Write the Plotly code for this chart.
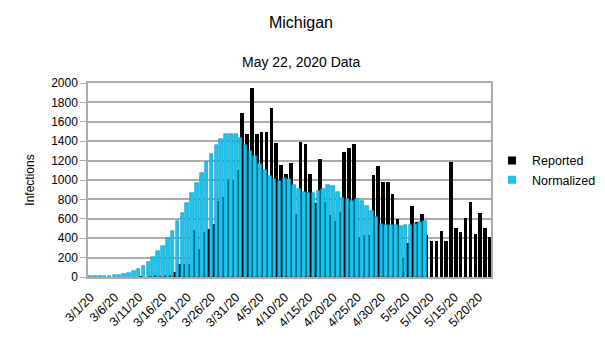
import pandas as pd
import plotly.graph_objects as go

# Daily cases, Michigan, 3/1/20 .. 5/22/20
days = pd.date_range("2020-03-01", "2020-05-22", freq="D")
categories = [f"{d.month}/{d.day}/20" for d in days]

reported = [
    0, 0, 0, 0, 0, 0, 0, 0, 0, 0, 2, 0,
    10, 12, 10, 18, 12,
    50, 136, 136, 136, 488, 290, 460, 500, 545, 784, 829, 1006, 1000, 1108,
    1695, 1475, 1945, 1475, 1490, 1500, 1745, 1378, 1157, 1057, 1175, 650,
    1395, 1372, 1063, 760, 1217,
    776, 639, 581, 667, 1290, 1328, 1371, 416, 433, 430, 1050, 1140, 978,
    978, 858, 601, 195, 350, 730, 567,
    648, 433, 375, 375, 477, 375, 1183, 501, 467, 604, 774, 443, 665, 505, 409,
]

normalized = [
    7, 7, 10, 10, 14, 17, 24, 31, 44, 61, 85, 112, 153, 205, 266, 324, 400,
    470, 580, 665, 767, 870, 965, 1074, 1187, 1268, 1357, 1422, 1475, 1470,
    1478, 1430, 1360, 1296, 1245,
    1160, 1098, 1040, 1006, 989, 1023, 1006, 945, 904, 876, 863, 870, 887,
    912, 950, 934, 880,
    811, 800, 785, 805, 780, 728, 677, 615, 550, 540, 540, 540, 529, 540,
    540, 550, 563, 574,
]
normalized = normalized + [None] * (len(categories) - len(normalized))

tick_labels = [
    "3/1/20", "3/6/20", "3/11/20", "3/16/20", "3/21/20", "3/26/20", "3/31/20",
    "4/5/20", "4/10/20", "4/15/20", "4/20/20", "4/25/20", "4/30/20",
    "5/5/20", "5/10/20", "5/15/20", "5/20/20",
]
y_ticks = list(range(0, 2001, 200))

BLACK = "#000000"
CYAN = "#1ac6f0"
CYAN_EDGE = "#0a93bd"
GRID = "#ababab"
FONT = "Liberation Sans"

fig = go.Figure()

# back row: reported counts, nudged right so they peek out between the front bars
fig.add_trace(go.Bar(
    x=categories, y=reported, name="Reported",
    marker=dict(color=BLACK, line=dict(width=0)),
    width=0.72, offset=-0.1, showlegend=False,
))
# front row: normalized counts
fig.add_trace(go.Bar(
    x=categories, y=normalized, name="Normalized",
    marker=dict(color=CYAN, line=dict(color=CYAN_EDGE, width=0.6)),
    width=0.74, offset=-0.44, showlegend=False,
))

# legend swatches
for name, col in (("Reported", BLACK), ("Normalized", CYAN)):
    fig.add_trace(go.Scatter(
        x=[None], y=[None], mode="markers", name=name,
        marker=dict(symbol="square", size=8, color=col),
    ))

fig.update_layout(
    width=605, height=340,
    margin=dict(l=88, r=114, t=83, b=63, autoexpand=False),
    paper_bgcolor="white", plot_bgcolor="white",
    barmode="overlay", bargap=0,
    font=dict(family=FONT, size=12, color="#000000"),
    title=dict(text="Michigan", x=301 / 605, xref="container", xanchor="center",
               y=1 - 22 / 340, yref="container", yanchor="middle",
               font=dict(size=16, family=FONT, color="#000000")),
    annotations=[dict(
        text="May 22, 2020 Data", xref="paper", yref="paper",
        x=(301 - 88) / 403, y=(277 - 62) / 194, xanchor="center", yanchor="middle",
        showarrow=False, font=dict(size=14, family=FONT, color="#000000"),
    )],
    legend=dict(x=492 / 605, xref="container", y=0.55, xanchor="left", yanchor="middle",
                font=dict(size=12.5, family=FONT), itemwidth=30,
                tracegroupgap=0, bgcolor="rgba(0,0,0,0)"),
    showlegend=True,
)

fig.update_xaxes(
    type="category", categoryorder="array", categoryarray=categories,
    range=[-0.5, len(categories) - 0.5],
    tickmode="array", tickvals=tick_labels, ticktext=tick_labels,
    tickangle=-45, ticks="", ticklabelstandoff=6,
    tickfont=dict(size=12.5, family=FONT),
    showgrid=False, showline=True, linecolor=GRID, linewidth=2, mirror=True,
)
fig.update_yaxes(
    range=[0, 2000], tickvals=y_ticks,
    ticks="outside", ticklen=6, tickcolor=GRID, tickwidth=1,
    tickfont=dict(size=12, family=FONT),
    showgrid=True, gridcolor=GRID, gridwidth=1.5,
    showline=True, linecolor=GRID, linewidth=1.5, mirror=True,
    zeroline=False,
    title=dict(text="Infections", font=dict(size=12, family=FONT), standoff=14),
)

fig.write_html("out.html")
